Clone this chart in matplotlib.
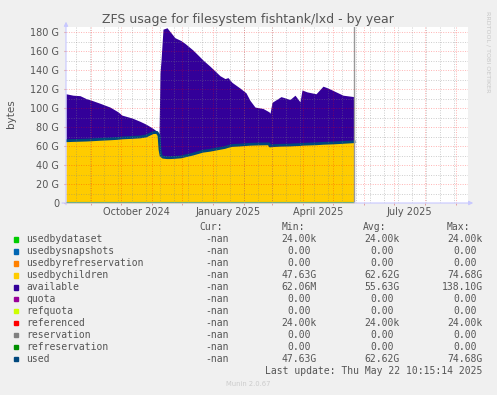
import numpy as np
import pandas as pd
import matplotlib
matplotlib.use("Agg")
import matplotlib.pyplot as plt
from matplotlib.patches import Rectangle

# ---- data (GB) ----
dates = ["2024-08-07", "2024-08-14", "2024-08-21", "2024-08-27", "2024-09-02", "2024-09-10",
         "2024-09-20", "2024-09-28", "2024-10-02", "2024-10-12", "2024-10-20", "2024-10-26",
         "2024-10-30", "2024-11-02", "2024-11-06", "2024-11-08", "2024-11-09", "2024-11-10",
         "2024-11-12", "2024-11-16", "2024-11-19", "2024-11-24", "2024-11-30", "2024-12-04",
         "2024-12-12", "2024-12-22", "2024-12-29", "2025-01-08", "2025-01-13", "2025-01-16",
         "2025-01-20", "2025-01-28", "2025-02-03", "2025-02-07", "2025-02-12", "2025-02-20",
         "2025-02-26", "2025-02-27", "2025-03-01", "2025-03-10", "2025-03-19", "2025-03-24",
         "2025-03-29", "2025-03-31", "2025-04-05", "2025-04-14", "2025-04-21", "2025-04-26",
         "2025-05-03", "2025-05-11", "2025-05-22"]
usedbychildren = [65.5, 65.8, 66.0, 66.2, 66.5, 67.0, 67.5, 68.0, 68.5, 69.0, 69.5, 70.5,
                  72.5, 74.0, 74.3, 71.0, 56.0, 50.0, 48.2, 47.7, 47.7, 48.0, 48.5, 49.5,
                  51.5, 54.5, 55.5, 57.5, 58.5, 59.5, 60.5, 61.0, 61.5, 61.8, 62.0, 62.2,
                  62.3, 60.0, 60.3, 60.8, 61.0, 61.3, 61.5, 61.8, 62.0, 62.3, 62.8, 63.0,
                  63.3, 63.8, 64.5]
available = [49.5, 47.7, 47.0, 43.8, 41.5, 38.0, 33.5, 28.0, 24.0, 20.5, 16.5, 12.5,
             8.0, 4.5, 1.2, 0.1, 81.0, 100.0, 134.8, 136.8, 132.8, 126.0, 122.5, 118.5,
             109.5, 96.0, 88.5, 76.5, 72.5, 72.5, 66.5, 60.0, 54.5, 46.2, 39.0, 37.3,
             33.7, 34.5, 45.7, 51.2, 48.0, 52.2, 45.0, 57.2, 55.0, 52.7, 60.2, 58.0,
             54.2, 49.7, 47.5]

# legend table
names = ["usedbydataset", "usedbysnapshots", "usedbyrefreservation", "usedbychildren",
         "available", "quota", "refquota", "referenced", "reservation", "refreservation", "used"]
colors = ["#00cc00", "#0066b3", "#ff8000", "#ffcc00", "#330099", "#990099",
          "#ccff00", "#ff0000", "#808080", "#008f00", "#00487d"]
cur_vals = ["-nan"] * 11
min_vals = ["24.00k", "0.00", "0.00", "47.63G", "62.06M", "0.00", "0.00", "24.00k", "0.00", "0.00", "47.63G"]
avg_vals = ["24.00k", "0.00", "0.00", "62.62G", "55.63G", "0.00", "0.00", "24.00k", "0.00", "0.00", "62.62G"]
max_vals = ["24.00k", "0.00", "0.00", "74.68G", "138.10G", "0.00", "0.00", "24.00k", "0.00", "0.00", "74.68G"]

yticks = list(range(0, 181, 20))
ytick_labels = ["0"] + [f"{v} G" for v in yticks[1:]]
xlabel_dates = ["2024-10-16", "2025-01-16", "2025-04-16", "2025-07-16"]
xlabel_text = ["October 2024", "January 2025", "April 2025", "July 2025"]

W, H = 497, 395
TXT = "#555555"
fx = lambda x: x / W
fy = lambda y: 1 - y / H

fig = plt.figure(figsize=(W / 100, H / 100), dpi=100, facecolor="#f0f0f0")
ax = fig.add_axes([fx(66), fy(203), 402 / W, 176 / H])
ax.set_facecolor("white")

d = pd.to_datetime(dates)
ch = np.array(usedbychildren)
av = np.array(available)
ax.fill_between(d, 0, ch, color="#ffcc00", lw=0, zorder=2)
ax.fill_between(d, ch, ch + av, color="#330099", lw=0, zorder=2)
ax.plot(d, ch, color="#00487d", lw=2.0, zorder=3)
ax.plot(d, np.zeros(len(d)), color="#008f00", lw=1.5, zorder=3, solid_capstyle="butt")
ax.axvline(d[-1], color="#999999", lw=1.0, zorder=3)

x0, x1 = pd.Timestamp("2024-08-07"), pd.Timestamp("2025-09-13")
ax.set_xlim(x0, x1)
ax.set_ylim(0, 185.3)

# grid (drawn over the areas like rrdtool does)
dots = (0, (1, 1.5))
for m in pd.date_range("2024-08-01", "2025-09-01", freq="MS"):
    ax.axvline(m, color="#ff0000", alpha=0.3, lw=0.7, ls=dots, zorder=5)
for w in pd.date_range("2024-08-17", x1, freq="14D"):
    ax.axvline(w, color="#808080", alpha=0.4, lw=0.7, ls=dots, zorder=5)
for v in range(10, 181, 10):
    if v % 20 == 0:
        ax.axhline(v, color="#ff0000", alpha=0.3, lw=0.7, ls=dots, zorder=5)
    else:
        ax.axhline(v, color="#808080", alpha=0.4, lw=0.7, ls=dots, zorder=5)

for s in ax.spines.values():
    s.set_visible(False)
ax.annotate("", xy=(0, 1.03), xytext=(0, -0.01), xycoords="axes fraction",
            arrowprops=dict(arrowstyle="-|>", color="#c8c8ff", lw=0.8, mutation_scale=6,
                            shrinkA=0, shrinkB=0), zorder=6)
ax.annotate("", xy=(1.013, 0), xytext=(-0.01, 0), xycoords="axes fraction",
            arrowprops=dict(arrowstyle="-|>", color="#c8c8ff", lw=0.8, mutation_scale=6,
                            shrinkA=0, shrinkB=0), zorder=6)

ax.set_yticks(yticks)
ax.set_yticklabels(ytick_labels)
ax.set_xticks(pd.to_datetime(xlabel_dates))
ax.set_xticklabels(xlabel_text)
ax.set_xticks(pd.date_range("2024-09-01", "2025-09-01", freq="MS"), minor=True)
ax.tick_params(axis="y", labelsize=7, labelcolor=TXT, length=1.5, color="#e09090", pad=3.5)
ax.tick_params(axis="x", which="major", labelsize=7, labelcolor=TXT, length=0, pad=3)
ax.tick_params(axis="x", which="minor", length=1.5, color="#e09090")

fig.text(fx(248), fy(19.5), "ZFS usage for filesystem fishtank/lxd - by year",
         ha="center", va="center", fontsize=9, color=TXT)
fig.text(fx(11), fy(114), "bytes", rotation=90, ha="center", va="center", fontsize=7.5, color=TXT)
fig.text(fx(487.5), fy(52), "RRDTOOL / TOBI OETIKER", rotation=270, ha="center", va="center",
         fontsize=4.6, color="#c8c8c8")

# legend table
mono = dict(family="DejaVu Sans Mono", fontsize=7, color=TXT, va="center")
cw = 5.9
fig.text(fx(199), fy(227.5), "Cur:", ha="left", **mono)
fig.text(fx(282), fy(227.5), "Min:", ha="left", **mono)
fig.text(fx(363), fy(227.5), "Avg:", ha="left", **mono)
fig.text(fx(447), fy(227.5), "Max:", ha="left", **mono)

def right(x, y, s):
    if s[-1].isdigit():
        x -= cw
    fig.text(fx(x), fy(y), s, ha="right", **mono)

for i, (nm, c) in enumerate(zip(names, colors)):
    y = 239.5 + 11.95 * i
    fig.patches.append(Rectangle((fx(13.8), fy(y + 2.2)), 4.4 / W, 4.4 / H, color=c,
                                 transform=fig.transFigure, figure=fig))
    fig.text(fx(26.5), fy(y), nm, ha="left", **mono)
    fig.text(fx(228.5), fy(y), cur_vals[i], ha="right", **mono)
    right(317, y, min_vals[i])
    right(400, y, avg_vals[i])
    right(482.5, y, max_vals[i])

fig.text(fx(482.5), fy(371), "Last update: Thu May 22 10:15:14 2025", ha="right", **mono)
fig.text(fx(248), fy(384.5), "Munin 2.0.67", ha="center", va="center", fontsize=4.9, color="#cccccc")

fig.savefig("out.png", dpi=100, facecolor=fig.get_facecolor())
